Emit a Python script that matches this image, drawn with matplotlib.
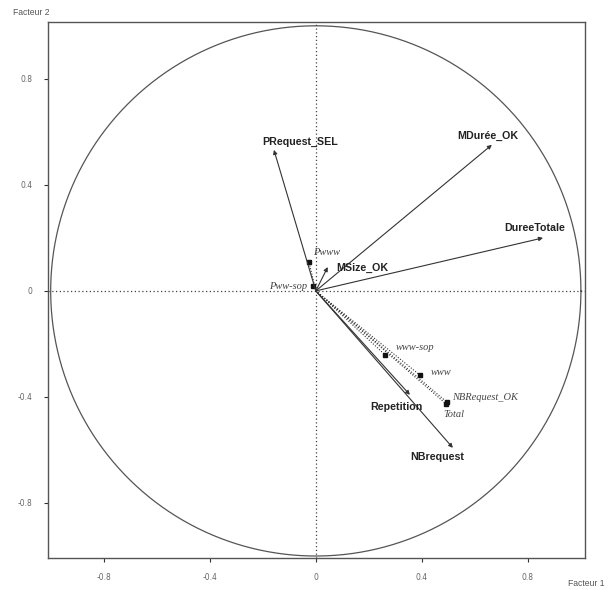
import numpy as np
import matplotlib.pyplot as plt

# variables actives (coordonnées sur les facteurs 1 et 2)
act_names = ['PRequest_SEL', 'MDurée_OK', 'DureeTotale', 'MSize_OK', 'Repetition', 'NBrequest']
act_x = [-0.158, 0.664, 0.857, 0.045, 0.355, 0.517]
act_y = [0.532, 0.551, 0.200, 0.090, -0.392, -0.592]

# variables supplémentaires
sup_names = ['Pwww', 'Pww-sop', 'www-sop', 'www', 'NBRequest_OK', 'Total']
sup_x = [-0.026, -0.010, 0.260, 0.392, 0.494, 0.490]
sup_y = [0.110, 0.020, -0.240, -0.317, -0.419, -0.425]

ticks = [-0.8, -0.4, 0, 0.4, 0.8]
tick_labels = ['-0.8', '-0.4', '0', '0.4', '0.8']

fig = plt.figure(figsize=(6.08, 5.90), dpi=100)
ax = fig.add_axes([0.079, 0.054, 0.883, 0.909])
ax.set_xlim(-1.01, 1.015)
ax.set_ylim(-1.008, 1.015)

# cercle des corrélations
t = np.linspace(0, 2 * np.pi, 400)
ax.plot(np.cos(t), np.sin(t), color='#555555', lw=0.9)
ax.axhline(0, color='#444444', lw=0.9, ls=(0, (1, 2)))
ax.axvline(0, color='#444444', lw=0.9, ls=(0, (1, 2)))

for x, y in zip(act_x, act_y):
    ax.annotate('', xy=(x, y), xytext=(0, 0),
                arrowprops=dict(arrowstyle='-|>', color='#333333', lw=0.8,
                                mutation_scale=6, shrinkA=0, shrinkB=0))
for x, y in zip(sup_x, sup_y):
    ax.plot([0, x], [0, y], color='#333333', lw=0.8, ls=(0, (1, 1.5)))
    ax.plot(x, y, marker='s', ms=2.5, color='#111111')

# positions des libellés (décalages en points)
act_off = [(-8.5, 6, 'left'), (-3, 6.5, 'center'), (-6, 7, 'center'),
           (6, -1, 'left'), (-9.5, -8.5, 'center'), (-11, -6.5, 'center')]
sup_off = [(3, 7, 'left'), (-4, -1, 'right'), (8, 5, 'left'),
           (8, 2, 'left'), (4, 3, 'left'), (-1.5, -8, 'left')]

for i, name in enumerate(act_names):
    dx, dy, ha = act_off[i]
    ax.annotate(name, xy=(act_x[i], act_y[i]), xytext=(dx, dy), textcoords='offset points',
                ha=ha, va='center', fontsize=7.7, fontweight='bold',
                family='Liberation Sans', color='#222222')
for i, name in enumerate(sup_names):
    dx, dy, ha = sup_off[i]
    ax.annotate(name, xy=(sup_x[i], sup_y[i]), xytext=(dx, dy), textcoords='offset points',
                ha=ha, va='center', fontsize=7.5, fontstyle='italic',
                family='Liberation Serif', color='#444444')

ax.set_xticks(ticks)
ax.set_xticklabels(tick_labels)
ax.set_yticks(ticks)
ax.set_yticklabels(tick_labels)
ax.tick_params(labelsize=5.5, labelcolor='#666666', length=3, width=0.8,
               color='#333333', pad=8)
for s in ax.spines.values():
    s.set_color('#555555')
    s.set_linewidth(1.0)

fig.text(0.021, 0.975, 'Facteur 2', fontsize=6.2, color='#555555', family='Liberation Sans')
fig.text(0.934, 0.006, 'Facteur 1', fontsize=6.2, color='#555555', family='Liberation Sans')

plt.savefig('out.png', dpi=100)
